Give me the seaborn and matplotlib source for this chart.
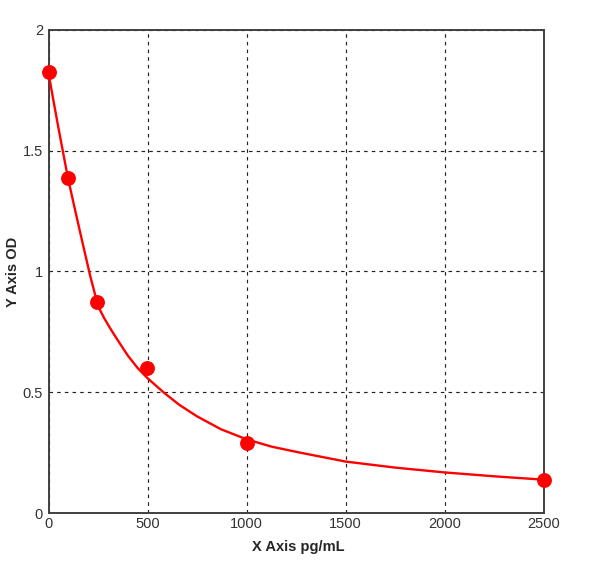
import matplotlib
matplotlib.use("Agg")
import matplotlib.pyplot as plt
import seaborn as sns
import pandas as pd

# standard points (concentration pg/mL vs OD)
conc = [0, 97, 245, 497, 1000, 2500]
od = [1.827, 1.386, 0.872, 0.599, 0.291, 0.135]

# fitted curve
curve_x = [0, 25, 50, 75, 97, 130, 170, 210, 245, 258, 280, 310, 344, 400, 450,
           500, 580, 660, 750, 870, 1000, 1130, 1270, 1500, 1750, 2000, 2250, 2500]
curve_y = [1.82, 1.705, 1.593, 1.485, 1.39, 1.268, 1.124, 0.982, 0.872, 0.843,
           0.808, 0.766, 0.722, 0.652, 0.600, 0.558, 0.500, 0.448, 0.400, 0.347,
           0.305, 0.274, 0.250, 0.213, 0.188, 0.168, 0.152, 0.138]

pts = pd.DataFrame({"x": conc, "y": od})
crv = pd.DataFrame({"x": curve_x, "y": curve_y})

sns.set_style("white")
plt.rcParams['font.family'] = ['Liberation Sans', 'DejaVu Sans']

fig = plt.figure(figsize=(6, 5.73), dpi=100)
ax = fig.add_axes([0.081, 0.1047, 0.825, 0.843])

sns.lineplot(data=crv, x="x", y="y", ax=ax, color="#ff0000", linewidth=1.7,
             sort=False, zorder=3, solid_joinstyle="round")
sns.scatterplot(data=pts, x="x", y="y", ax=ax, color="#ff0000", s=115,
                edgecolor="#ff0000", linewidth=0, zorder=4, clip_on=False)

ax.set_xlim(0, 2500)
ax.set_ylim(0, 2)
ax.set_xticks([0, 500, 1000, 1500, 2000, 2500])
ax.set_yticks([0, 0.5, 1, 1.5, 2])
ax.set_xticklabels(["0", "500", "1000", "1500", "2000", "2500"])
ax.set_yticklabels(["0", "0.5", "1", "1.5", "2"])
ax.tick_params(length=0, labelsize=10.5, labelcolor="#333333")
ax.tick_params(axis="y", pad=4)
ax.tick_params(axis="x", pad=3)

ax.grid(True, color="#222222", linestyle=(0, (3, 3.5)), linewidth=0.85)
for s in ax.spines.values():
    s.set_color("#404040")
    s.set_linewidth(1.4)

ax.set_xlabel("X Axis pg/mL", fontsize=10.5, fontweight="bold")
ax.set_ylabel("Y Axis OD", fontsize=10.5, fontweight="bold")
ax.xaxis.set_label_coords(0.504, -0.056)
ax.yaxis.set_label_coords(-0.072, 0.5)
ax.yaxis.label.set_va("center")

fig.savefig("out.png", dpi=100)
